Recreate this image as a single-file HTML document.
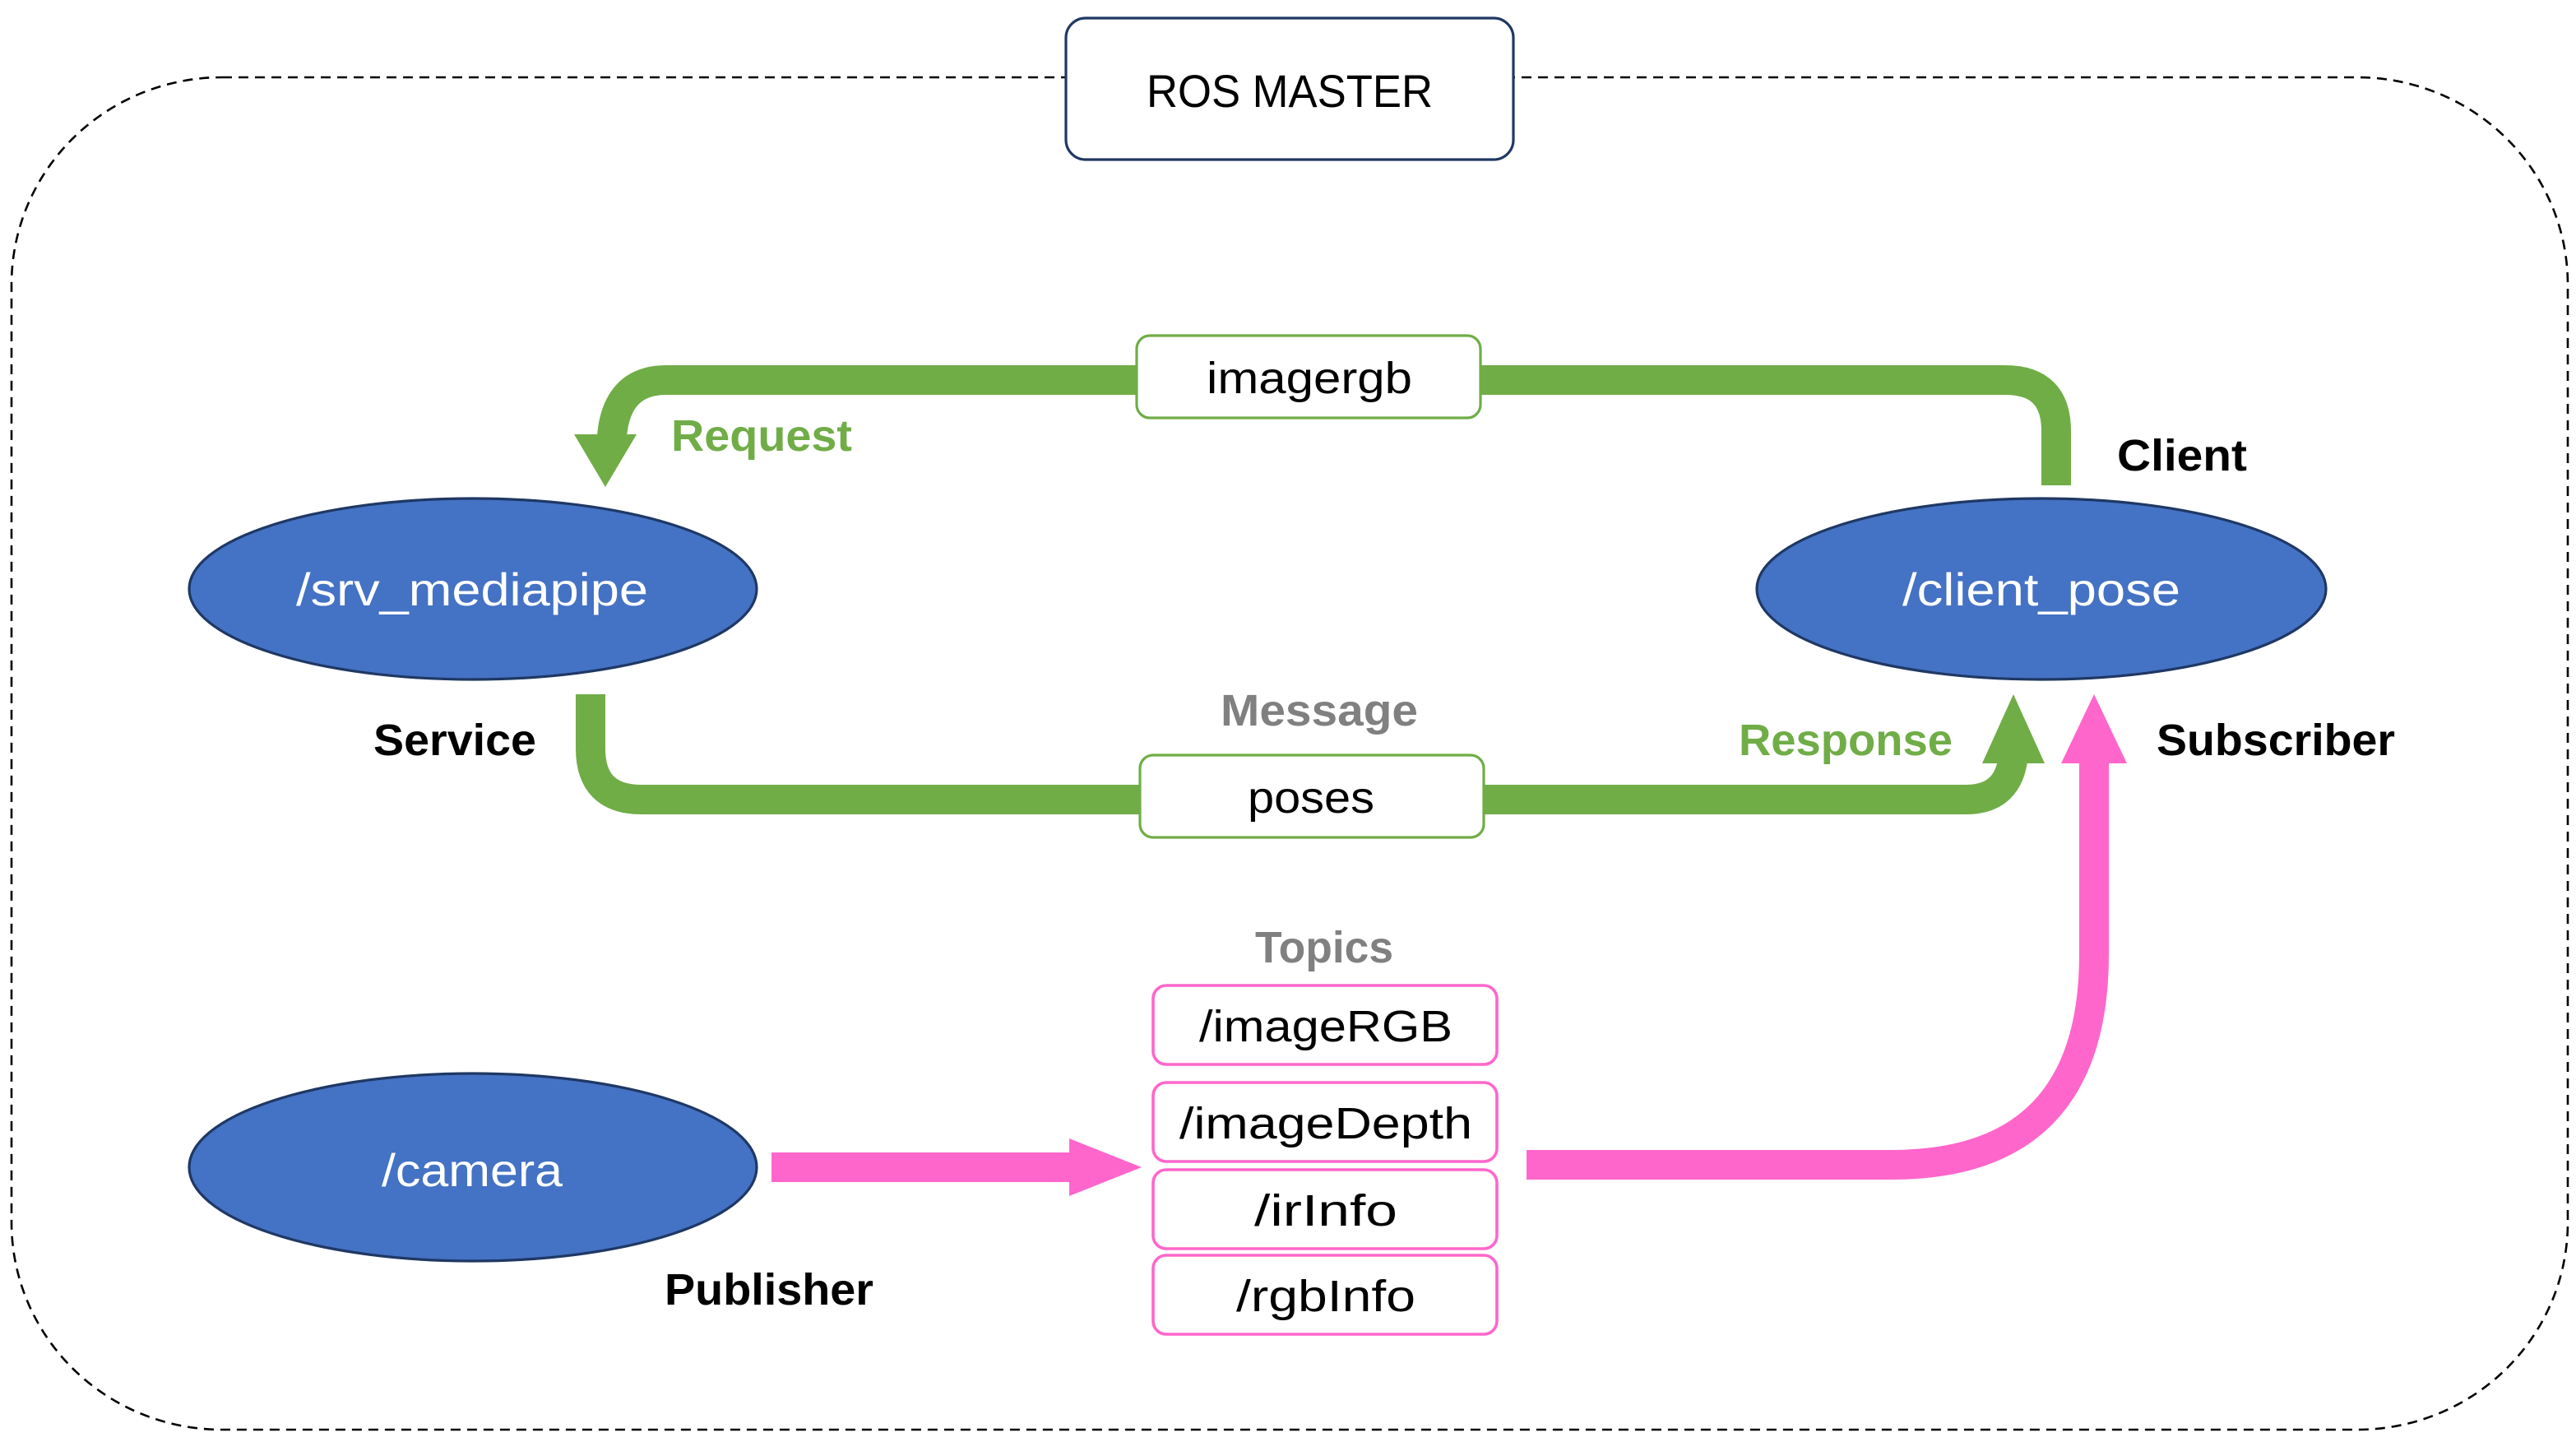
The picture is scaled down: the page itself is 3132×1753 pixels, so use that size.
<!DOCTYPE html>
<html><head><meta charset="utf-8"><style>
html,body{margin:0;padding:0;background:#fff;}
svg{display:block;}
text{font-family:"Liberation Sans",sans-serif;}
</style></head><body>
<svg width="3132" height="1753" viewBox="0 0 1566 876.5" xmlns="http://www.w3.org/2000/svg">
<rect x="0" y="0" width="1566" height="876.5" fill="#fff"/>
<!-- dashed boundary -->
<rect x="7" y="47" width="1554" height="822" rx="128" ry="126" fill="none" stroke="#000" stroke-width="1.3" stroke-dasharray="6,4"/>
<!-- ROS master -->
<rect x="648" y="11" width="272" height="86" rx="12" fill="#fff" stroke="#203864" stroke-width="1.6"/>
<text x="784" y="65" font-size="28" text-anchor="middle" textLength="174" lengthAdjust="spacingAndGlyphs">ROS MASTER</text>

<!-- green top path (request) -->
<path d="M1250,295 V262 Q1250,231 1219,231 H405 Q375,231 372,265" fill="none" stroke="#70AD47" stroke-width="18"/>
<polygon points="349,264 387,264 368,296" fill="#70AD47"/>
<!-- green bottom path (response) -->
<path d="M359,422 V455 Q359,486 390,486 H1195 Q1222,486 1224,458" fill="none" stroke="#70AD47" stroke-width="18"/>
<polygon points="1205,464 1243,464 1224,422" fill="#70AD47"/>

<!-- pink paths -->
<rect x="469" y="700.5" width="182" height="18" fill="#FF66CC"/>
<polygon points="650,692 650,727 694,709.5" fill="#FF66CC"/>
<path d="M928,708 H1150 Q1273,708 1273,580 V460" fill="none" stroke="#FF66CC" stroke-width="18"/>
<polygon points="1253,464 1293,464 1273,422" fill="#FF66CC"/>

<!-- message boxes -->
<rect x="691" y="204" width="209" height="50" rx="8" fill="#fff" stroke="#70AD47" stroke-width="1.6"/>
<text x="796" y="239" font-size="27" text-anchor="middle" textLength="125" lengthAdjust="spacingAndGlyphs">imagergb</text>
<rect x="693" y="459" width="209" height="50" rx="8" fill="#fff" stroke="#70AD47" stroke-width="1.6"/>
<text x="797" y="494" font-size="27" text-anchor="middle" textLength="77" lengthAdjust="spacingAndGlyphs">poses</text>

<!-- topic boxes -->
<g fill="#fff" stroke="#FF66CC" stroke-width="1.8">
<rect x="701" y="599" width="209" height="48" rx="8"/>
<rect x="701" y="658" width="209" height="48" rx="8"/>
<rect x="701" y="711" width="209" height="48" rx="8"/>
<rect x="701" y="763" width="209" height="48" rx="8"/>
</g>
<g font-size="27" text-anchor="middle">
<text x="806" y="633" textLength="154" lengthAdjust="spacingAndGlyphs">/imageRGB</text>
<text x="806" y="692" textLength="178" lengthAdjust="spacingAndGlyphs">/imageDepth</text>
<text x="806" y="745" textLength="87" lengthAdjust="spacingAndGlyphs">/irInfo</text>
<text x="806" y="797" textLength="109" lengthAdjust="spacingAndGlyphs">/rgbInfo</text>
</g>

<!-- ellipses -->
<g fill="#4472C4" stroke="#1F3864" stroke-width="1.6">
<ellipse cx="287.5" cy="358" rx="172.5" ry="55"/>
<ellipse cx="1241" cy="358" rx="173" ry="55"/>
<ellipse cx="287.5" cy="709.5" rx="172.5" ry="57"/>
</g>
<g fill="#fff" font-size="28" text-anchor="middle">
<text x="287" y="368" textLength="214" lengthAdjust="spacingAndGlyphs">/srv_mediapipe</text>
<text x="1241" y="368" textLength="169" lengthAdjust="spacingAndGlyphs">/client_pose</text>
<text x="287" y="721" textLength="110" lengthAdjust="spacingAndGlyphs">/camera</text>
</g>

<!-- labels -->
<g font-size="27" font-weight="bold">
<text x="408" y="274" fill="#70AD47" textLength="110" lengthAdjust="spacingAndGlyphs">Request</text>
<text x="1287" y="286" fill="#000" textLength="79" lengthAdjust="spacingAndGlyphs">Client</text>
<text x="227" y="459" fill="#000" textLength="99" lengthAdjust="spacingAndGlyphs">Service</text>
<text x="742" y="441" fill="#808080" textLength="120" lengthAdjust="spacingAndGlyphs">Message</text>
<text x="1057" y="459" fill="#70AD47" textLength="130" lengthAdjust="spacingAndGlyphs">Response</text>
<text x="1311" y="459" fill="#000" textLength="145" lengthAdjust="spacingAndGlyphs">Subscriber</text>
<text x="763" y="585" fill="#808080" textLength="84" lengthAdjust="spacingAndGlyphs">Topics</text>
<text x="404" y="793" fill="#000" textLength="127" lengthAdjust="spacingAndGlyphs">Publisher</text>
</g>
</svg>
</body></html>
